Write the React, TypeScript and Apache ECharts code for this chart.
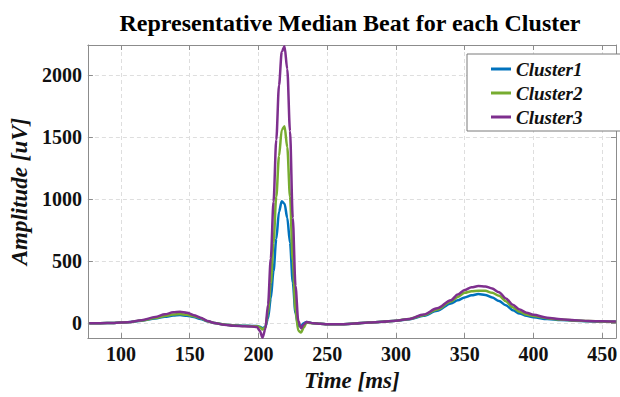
import React, { useEffect, useRef } from "react";
import * as echarts from "echarts";

const timeMs = [
  77, 85, 95, 105, 115, 125, 132, 138, 143, 148,
  153, 158, 163, 168, 175, 182, 190, 195,
  199, 201, 203, 205, 207, 209, 211, 213, 215, 217,
  219, 221, 223, 225, 227, 229, 231, 233, 235,
  240, 245, 250, 260, 270, 280, 290, 300, 310, 320,
  330, 340, 345, 350, 355, 360, 365, 370, 375, 380,
  385, 390, 395, 400, 410, 420, 430, 440, 450, 460,
];

const cluster1 = [
  0, 0, 2, 8, 20, 38, 52, 62, 66, 60,
  50, 35, 15, 2, -10, -17, -20, -22,
  -22, -28, -40, -30, 40, 200, 420, 680, 900, 985,
  965, 850, 650, 330, 80, -20, -25, 0, 10,
  0, -5, -8, -8, -3, 5, 12, 20, 33, 60,
  100, 160, 185, 208, 225, 235, 228, 208, 180, 145,
  105, 78, 60, 48, 34, 26, 20, 16, 13, 12,
];

const cluster2 = [
  0, 0, 2, 8, 22, 42, 58, 70, 74, 68,
  57, 40, 16, 2, -10, -18, -22, -24,
  -24, -32, -50, -35, 80, 320, 650, 1020, 1350, 1560,
  1590, 1420, 1020, 500, 100, -60, -75, -35, 5,
  0, -5, -8, -8, -3, 5, 12, 20, 35, 65,
  110, 175, 212, 245, 258, 262, 262, 245, 222, 178,
  128, 92, 70, 58, 40, 30, 22, 17, 14, 12,
];

const cluster3 = [
  0, 0, 2, 8, 25, 50, 72, 88, 93, 85,
  65, 45, 18, 2, -12, -20, -25, -27,
  -30, -60, -115, -50, 150, 520, 980, 1480, 1920, 2190,
  2235, 2050, 1550, 850, 300, 20, -40, -10, 10,
  0, -5, -8, -8, -3, 5, 12, 20, 35, 70,
  120, 185, 232, 268, 290, 300, 297, 280, 250, 200,
  150, 110, 85, 68, 45, 32, 24, 18, 15, 13,
];

const seriesNames = ["Cluster1", "Cluster2", "Cluster3"];
const seriesColors = ["#0072BD", "#77AC30", "#7E2F8E"];
const titleText = "Representative Median Beat for each Cluster";
const xName = "Time [ms]";
const yName = "Amplitude [uV]";

export default function App() {
  const ref = useRef<HTMLDivElement>(null);
  useEffect(() => {
    if (!ref.current) return;
    const chart = echarts.init(ref.current, null, { renderer: "svg" });
    const serif = '"Liberation Serif", "Times New Roman", serif';
    const axisColor = "#8c8c8c";
    const values = [cluster1, cluster2, cluster3];
    const xMin = 76;
    const xMax = 460;
    const yMin = -120;
    const yMax = 2245;
    const baseAxis = {
      axisLine: { show: true, onZero: false, lineStyle: { color: axisColor, width: 1 } },
      axisTick: { show: true, inside: true, length: 5, lineStyle: { color: axisColor } },
    };
    const option = {
      animation: false,
      backgroundColor: "#ffffff",
      graphic: [
        {
          type: "text",
          x: 350,
          y: 23,
          style: {
            text: titleText,
            fill: "#000",
            font: `bold 24px ${serif}`,
            textAlign: "center",
            textVerticalAlign: "middle",
          },
        },
      ],
      grid: { left: 83, right: 3, top: 45, bottom: 51, containLabel: false },
      legend: {
        orient: "vertical",
        left: 467,
        top: 54,
        padding: [5, 38, 4, 24],
        itemGap: 4,
        itemWidth: 20,
        itemHeight: 3,
        icon: "rect",
        backgroundColor: "#ffffff",
        borderColor: "#7a7a7a",
        borderWidth: 1,
        data: seriesNames,
        textStyle: {
          fontFamily: serif,
          fontSize: 19,
          fontWeight: "bold",
          fontStyle: "italic",
          color: "#111",
          lineHeight: 20,
        },
      },
      xAxis: [
        {
          ...baseAxis,
          type: "value",
          position: "bottom",
          min: xMin,
          max: xMax,
          splitNumber: 8,
          name: xName,
          nameLocation: "middle",
          nameGap: 28,
          nameTextStyle: {
            fontFamily: serif,
            fontSize: 23,
            fontWeight: "bold",
            fontStyle: "italic",
            color: "#111",
          },
          axisLabel: {
            margin: 6,
            fontFamily: serif,
            fontSize: 20,
            fontWeight: "bold",
            color: "#111",
            formatter: (v: number) => (v % 50 === 0 ? String(v) : ""),
          },
          splitLine: { show: true, lineStyle: { color: "#dedede", type: [4, 3], width: 1 } },
        },
        {
          ...baseAxis,
          type: "value",
          position: "top",
          min: xMin,
          max: xMax,
          splitNumber: 8,
          axisLabel: { show: false },
          splitLine: { show: false },
        },
      ],
      yAxis: [
        {
          ...baseAxis,
          type: "value",
          position: "left",
          min: yMin,
          max: yMax,
          splitNumber: 5,
          name: yName,
          nameLocation: "middle",
          nameGap: 48,
          nameTextStyle: {
            fontFamily: serif,
            fontSize: 23,
            fontWeight: "bold",
            fontStyle: "italic",
            color: "#111",
          },
          axisLabel: {
            margin: 6,
            fontFamily: serif,
            fontSize: 20,
            fontWeight: "bold",
            color: "#111",
            formatter: (v: number) => (v % 500 === 0 ? String(v) : ""),
          },
          splitLine: { show: true, lineStyle: { color: "#dedede", type: [4, 3], width: 1 } },
        },
        {
          ...baseAxis,
          type: "value",
          position: "right",
          min: yMin,
          max: yMax,
          splitNumber: 5,
          axisLabel: { show: false },
          splitLine: { show: false },
        },
      ],
      series: seriesNames.map((name, si) => ({
        name,
        type: "line",
        xAxisIndex: 0,
        yAxisIndex: 0,
        symbol: "none",
        smooth: 0.3,
        smoothMonotone: "x",
        color: seriesColors[si],
        lineStyle: { color: seriesColors[si], width: 2.5 },
        data: timeMs.map((t, i) => [t, values[si][i]]),
        z: 2 + si,
      })),
    };
    chart.setOption(option as any);
    return () => chart.dispose();
  }, []);
  return (
    <div
      ref={ref}
      style={{ position: "fixed", left: 0, top: 0, width: 620, height: 397 }}
    />
  );
}
